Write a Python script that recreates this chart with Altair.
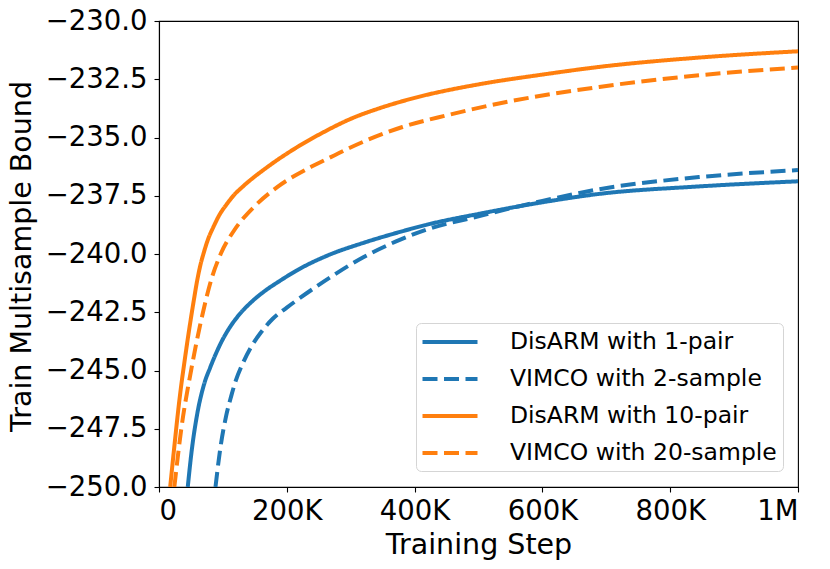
import altair as alt
import pandas as pd

series_names = ["DisARM with 1-pair", "VIMCO with 2-sample", "DisARM with 10-pair", "VIMCO with 20-sample"]
series_colors = ["#1f77b4", "#1f77b4", "#ff7f0e", "#ff7f0e"]
series_dashes = [[1, 0], [15, 6.5], [1, 0], [15, 6.5]]

# Training step (in thousands) and bound values
disarm1_x = [45, 51.4, 59.2, 71.2, 80, 89.5, 100, 110.3, 125, 145, 162.5, 191, 214.7, 266.8, 319, 371, 418,
             500, 600, 689, 845, 1000]
disarm1_y = [-250, -248.39, -246.96, -245.53, -244.88, -244.25, -243.65, -243.17, -242.62, -242.05, -241.65,
             -241.12, -240.72, -240.03, -239.53, -239.1, -238.75, -238.28, -237.78, -237.42, -237.1, -236.88]

vimco2_x = [88.4, 95.7, 105, 113, 120, 131, 145, 160, 178, 200, 220, 268, 319, 371, 418, 500, 600, 689, 845, 1000]
vimco2_y = [-250, -248.39, -246.96, -246.1, -245.45, -244.7, -243.95, -243.35, -242.78, -242.3, -241.9,
            -241.0, -240.15, -239.46, -238.96, -238.38, -237.72, -237.22, -236.7, -236.4]

disarm10_x = [17.5, 23.5, 32, 42.6, 55, 60, 65, 70, 77, 85, 95, 105, 118, 131, 170, 217, 259, 300, 350, 400,
              500, 600, 689, 845, 1000]
disarm10_y = [-250, -248.39, -246.25, -244.1, -241.9, -241.1, -240.45, -239.95, -239.35, -238.85, -238.3,
              -237.9, -237.45, -237.11, -236.26, -235.4, -234.75, -234.2, -233.7, -233.3, -232.72, -232.3,
              -231.97, -231.57, -231.3]

vimco20_x = [24, 34.7, 50.4, 68.5, 81.7, 97, 118, 149, 186, 238, 275, 298, 381, 450, 532, 689, 845, 1000]
vimco20_y = [-250, -247.54, -244.97, -242.54, -241.11, -239.97, -238.97, -237.97, -237.11, -236.26,
             -235.76, -235.45, -234.55, -234.05, -233.54, -232.83, -232.33, -232.0]

x_ticks = [0, 200000, 400000, 600000, 800000, 1000000]
y_ticks = [-250, -247.5, -245, -242.5, -240, -237.5, -235, -232.5, -230]

rows = []
for name, xs, ys in [
    (series_names[0], disarm1_x, disarm1_y),
    (series_names[1], vimco2_x, vimco2_y),
    (series_names[2], disarm10_x, disarm10_y),
    (series_names[3], vimco20_x, vimco20_y),
]:
    for i, (xv, yv) in enumerate(zip(xs, ys)):
        rows.append({"series": name, "step": xv * 1000, "bound": yv, "idx": i})
df = pd.DataFrame(rows)

legend_opts = dict(
    title=None, orient="none", legendX=257, legendY=302,
    symbolType="M-2.5,0H2.5", symbolSize=484, symbolStrokeWidth=4,
    symbolOffset=15, labelOffset=47, labelFontSize=23.5,
    labelColor="black", rowPadding=12, padding=6,
    strokeColor="#d5d5d5", fillColor="white", cornerRadius=5,
    labelLimit=500, labelFont="DejaVu Sans",
)

chart = alt.Chart(df).mark_line(strokeWidth=4, interpolate="monotone", clip=True, strokeCap="butt").encode(
    x=alt.X("step:Q", scale=alt.Scale(domain=[0, 1000000], nice=False, zero=False),
            axis=alt.Axis(values=x_ticks, title="Training Step",
                          labelExpr="datum.value == 0 ? '0' : (datum.value >= 1000000 ? '1M' : format(datum.value/1000, 'd') + 'K')",
                          labelPadding=5, titleX=319.5, titleY=66.3, titleBaseline="alphabetic",
                          titleAnchor="middle")),
    y=alt.Y("bound:Q", scale=alt.Scale(domain=[-250, -230], nice=False, zero=False),
            axis=alt.Axis(values=y_ticks, title="Train Multisample Bound",
                          labelExpr="'\\u2212' + format(abs(datum.value), '.1f')",
                          labelPadding=7, titleX=-128.7, titleY=235, titleAngle=270,
                          titleBaseline="alphabetic", titleAlign="center")),
    color=alt.Color("series:N", scale=alt.Scale(domain=series_names, range=series_colors),
                    legend=alt.Legend(**legend_opts)),
    strokeDash=alt.StrokeDash("series:N", scale=alt.Scale(domain=series_names, range=series_dashes),
                              legend=alt.Legend(**legend_opts)),
    order=alt.Order("idx:Q"),
).properties(
    width=639, height=466,
    autosize=alt.AutoSizeParams(type="none"),
    padding={"left": 151, "top": 13, "right": 20, "bottom": 74},
).configure(
    font="DejaVu Sans",
).configure_view(
    stroke="black", strokeWidth=1.1,
).configure_axis(
    labelFontSize=27.5, titleFontSize=28.5, labelColor="black", titleColor="black",
    titleFontWeight="normal", domainColor="black", domainWidth=1.1, tickColor="black",
    tickWidth=1.1, tickSize=5, grid=False, labelFont="DejaVu Sans", titleFont="DejaVu Sans",
)

chart.save("out.html", embed_options={"renderer": "svg", "actions": False})
